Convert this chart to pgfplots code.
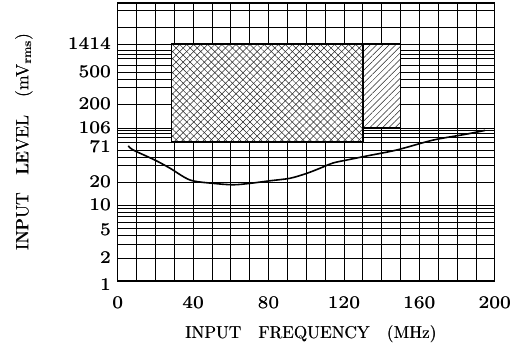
\documentclass[border=0pt]{standalone}
\usepackage{pgfplots}
\pgfplotsset{compat=1.18}
\usepackage{graphicx}
\usetikzlibrary{patterns.meta}
\newcommand{\sm}[1]{\scalebox{2.95}{\fontsize{6}{7}\selectfont\rlap{#1}\hspace{0.14pt}#1}}
\newcommand{\lb}[1]{\scalebox{1.72}{\fontsize{10}{12}\selectfont\rlap{#1}\hspace{0.22pt}#1}}
\newcommand{\lby}[1]{\scalebox{1.78}{\fontsize{10}{12}\selectfont\rlap{#1}\hspace{0.22pt}#1}}
\newcommand{\dn}[2]{\raisebox{-#1}{\sm{#2}}\vphantom{\raisebox{#1}{\sm{#2}}}}
\begin{document}
\begin{tikzpicture}
\begin{axis}[
  at={(0,0)}, anchor=south west,
  scale only axis, width=377bp, height=278bp,
  xmin=0, xmax=200, ymin=1, ymax=7000,
  y coord trafo/.code={%
    \pgfmathparse{ln(#1)*0.4342944819}\let\LLv\pgfmathresult
    \pgfmathparse{76*min(max(\LLv,0),1)+76.40*min(max(\LLv-1,0),0.30103)+72.70*min(max(\LLv-1.30103,0),0.55023)+80.44*min(max(\LLv-1.85126,0),0.17405)+87.05*min(max(\LLv-2.02531,0),0.27572)+80.41*min(max(\LLv-2.30103,0),0.39794)+62.02*min(max(\LLv-2.69897,0),0.45148)+59.02*max(\LLv-3.15045,0)}%
  },
  xtick={0,40,80,120,160,200},
  xticklabels={\sm{0},\sm{40},\sm{80},\sm{120},\sm{160},\sm{200}},
  minor x tick num=3,
  ytick={1,2,5,10,20,71,106,200,500,1414},
  yticklabels={\dn{4bp}{1},\sm{2},\dn{2bp}{5},\sm{10},\sm{20},\dn{5bp}{71},\sm{106},\sm{200},\sm{500},\sm{1414}},
  minor ytick={3,4,6,7,8,9,34.3,44.2,55.1,82,92,100,325,409,648,841,976,1132,2744,5326},
  grid=both,
  major grid style={black, line width=0.6bp},
  minor grid style={black, line width=0.6bp},
  tick style={draw=none},
  axis line style={line width=1.4bp},
  xticklabel style={yshift=-12.5bp},
  yticklabel style={xshift=-3bp},
  xlabel={\lb{INPUT\quad FREQUENCY\quad (MHz)}},
  ylabel={\lby{INPUT\quad LEVEL\quad (mV$_{\mathrm{rms}}$)}},
  xlabel style={at={(axis description cs:0.5127,-0.1906)}, anchor=center},
  ylabel style={at={(axis description cs:-0.2485,0.500)}, anchor=center},
]
% operating region boxes
\addplot[fill=white, draw=black, line width=1.5bp,
  postaction={pattern={Lines[angle=45,distance=5pt,line width=0.5pt]}, pattern color=black!85},
  postaction={pattern={Lines[angle=-45,distance=5pt,line width=0.5pt]}, pattern color=black!85}]
  coordinates {(28.5,71) (130,71) (130,1414) (28.5,1414)} -- cycle;
\addplot[fill=white, draw=black, line width=1.5bp,
  postaction={pattern={Lines[angle=45,distance=4.5pt,line width=0.5pt]}, pattern color=black!85}]
  coordinates {(130,106) (150,106) (150,1414) (130,1414)} -- cycle;
% sensitivity curve
\addplot[black, line width=1.6bp, smooth] coordinates {
 (5.6,63) (8.3,55) (19.8,40) (27.7,31) (38.4,21.3) (50.7,19.2) (61.3,18.4)
 (70.2,19.2) (80.8,20.8) (91.4,22.5) (100.3,26.3) (107.3,30.9) (114.2,36.5)
 (121.5,40.1) (132.1,45.6) (148,55.1) (167.3,75) (185.1,89) (194.9,99)
};
\end{axis}
\pgfresetboundingbox
\path[use as bounding box] (-117.7bp,-77bp) rectangle (407.3bp,281bp);
\end{tikzpicture}
\end{document}
